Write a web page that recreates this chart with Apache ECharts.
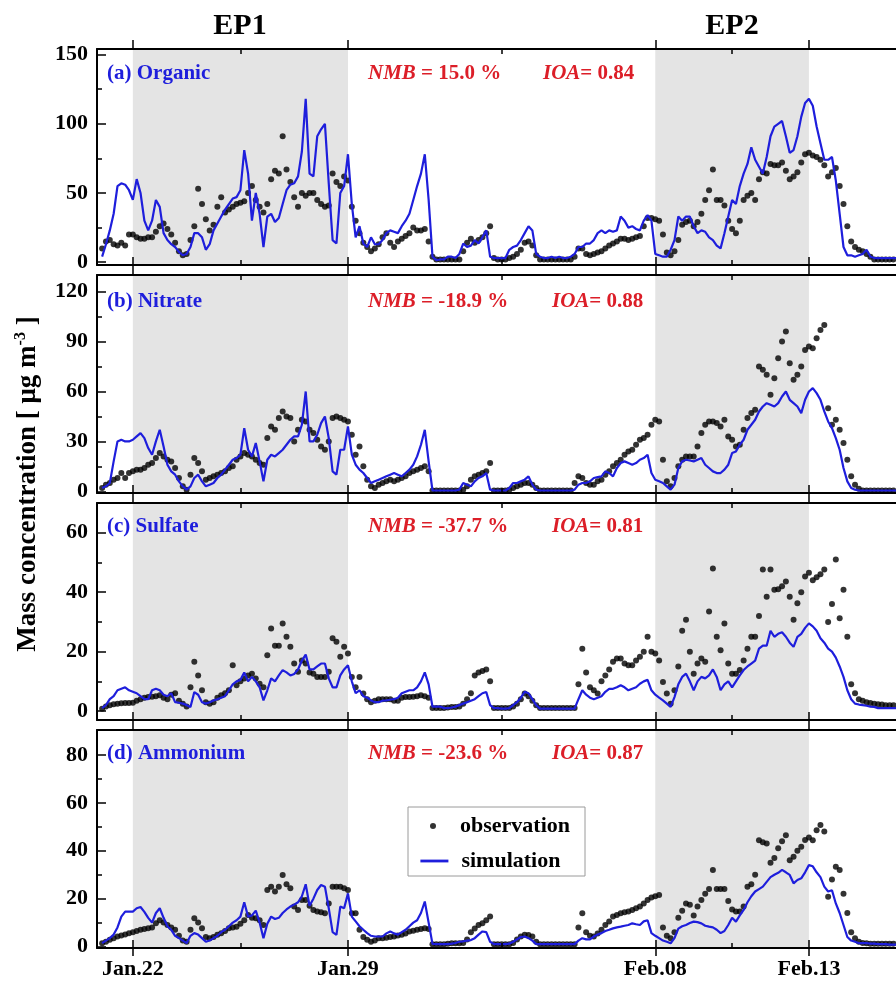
<!DOCTYPE html>
<html><head><meta charset="utf-8">
<script src="https://cdn.jsdelivr.net/npm/echarts@6/dist/echarts.min.js"></script>
<style>html,body{margin:0;padding:0;background:#fff}#c{width:896px;height:981px}</style>
</head><body><div id="c"></div>
<script>
// ---------------- DATA ----------------
// Samples every 3 hours, hours relative to Jan.22 00:00 (first sample: Jan.21 00:00)
const START_HOUR = -24;
const STEP_HOURS = 3;
const MAJOR_TICK_HOURS = [0, 168, 408, 528];
const MAJOR_TICK_LABELS = ['Jan.22', 'Jan.29', 'Feb.08', 'Feb.13'];
const MINOR_TICK_HOURS = [84, 288, 468];
const EPISODES = [[0, 168], [408, 528]];
const EPISODE_NAMES = ['EP1', 'EP2'];
const PANEL_LABELS = ['(a) Organic', '(b) Nitrate', '(c) Sulfate', '(d) Ammonium'];
const NMB_VALUES = ['15.0', '-18.9', '-37.7', '-23.6'];
const IOA_VALUES = ['0.84', '0.88', '0.81', '0.87'];
const Y_TICKS = [[0, 50, 100, 150], [0, 30, 60, 90, 120], [0, 20, 40, 60], [0, 20, 40, 60, 80]];
const Y_MINOR_TICKS = [[25, 75, 125], [15, 45, 75, 105], [10, 30, 50], [10, 30, 50, 70]];

const organicObs = [
10,15,16,13,12,14,12,20, 20,18,17,17,18,18,22,26, 28,24,20,14,8,5,6,16, 26,53,42,31,23,27,40,47,
36,38,40,42,43,44,50,55, 45,40,36,42,60,66,64,91, 67,58,47,40,50,48,50,50, 45,42,40,41,64,58,55,62,
59,40,30,21,14,11,8,10, 13,18,21,14,11,15,17,19, 21,25,23,23,24,15,4,2, 2,2,2,2,2,2,8,14,
17,14,16,18,21,26,3,2, 2,2,3,4,6,9,14,15, 12,5,2,2,2,2,2,2, 2,2,2,4,10,10,6,5,
6,7,8,10,12,13.5,15,17, 17,16,17,18,19,26,32,32, 31,30,20,7,5,8,16,27, 29,30,26,29,35,45,52,67,
45,45,41,30,24,21,30,45, 48,50,45,60,65,64,71,70, 70,72,66,60,62,65,72,78, 79,77,76,74,70,62,65,68,
55,42,26,15,11,9,8,6, 4,2,2,2,2,2,2,2];
const organicSim = [
4,13,23,35,55,57,56,52, 45,60,50,30,23,30,45,40, 21,16,13,11,7.5,5,6,11, 21,21,18,9,13,23,28,33,
38,42,46,47,52,81,64,30, 50,35,11,33,35,29,32,42, 52,56,57,62,80,118,64,62, 91,96,100,57,16,13.5,50,55,
78,42,18,26,13.5,11,18,13, 13,16,21,23,22,21,26,30, 35,45,55,64,78,45,4,1.5, 2,2,4,4,3,6,13.5,11,
12,16,13.5,18,23,4,3,3, 3,3,9,11,12,16,21,26, 23,6,4,3,3,4,3,4, 3,3,4,6,11,11,13.5,13.5,
16,21,23,21,23,22,23,33, 30,25,26,24,23,30,34,30, 6,5,4,4,9,16,33,30, 33,33,26,21,23,22,18,16,
12,10,21,33,45,42,55,64, 71,83,74,69,64,76,91,98, 100,102,91,79,81,91,105,115, 118,113,98,86,74,74,76,59,
35,11,5,5,4,5,6,9, 4,3,3,3,3,3,3,3];

const nitrateObs = [
2,4,5,7,8,11,8,11, 12,13,13,14,16,17,20,23, 21,19,18,14,8,3,1,10, 20,17,12,7,8,9,10,11,
12,14,15,19,21,23,22,21, 19,17,16,32,39,37,44,48, 45,44,30,37,43,42,37,35, 31,27,25,30,44,45,44,43,
42,34,22,27,15,7,3,2, 4,5,6,7,6,7,8,9, 11,12,13,14,15,12,0.5,0.5, 0.5,0.5,0.5,0.5,0.5,0.5,1,3,
7,9,10,11,12,17,0.5,0.5, 0.5,0.5,1,2,3,4,5,5, 4,2,0.5,0.5,0.5,0.5,0.5,0.5, 0.5,0.5,0.5,5,9,8,5,4,
4,6,7,10,12,15,17,19, 22,24,25,28,31,32,34,40, 43,42,19,6,3,8,15,19, 21,21,21,27,35,40,42,42,
41,39,43,33,31,27,28,37, 44,47,49,75,73,70,58,68, 80,90,96,77,67,70,75,85, 87,86,92,97,100,50,40,43,
37,29,19,9,4,1.5,0.5,0.5, 0.5,0.5,0.5,0.5,0.5,0.5,0.5,0.5];
const nitrateSim = [
2,3,5,18,30,31,30,30, 31,33,35,32,26,22,30,37, 27,16,12,10,6,3,1,3, 8,10,6,3,4,5,8,10,
13,16,19,20,22,38,25,21, 29,18,6,19,22,21,23,25, 28,31,33,33,40,60,30,30, 34,41,45,32,12,10,25,25,
39,22,16,13,11,8,5,6, 7,8,9,10,11,10,9,11, 13,16,21,28,37,18,0.5,0.5, 0.5,0.5,0.5,0.5,0.5,1,5,4,
3,6,8,9,11,1,0.5,0.5, 0.5,0.5,2,5,5,6,7,9, 4,1,0.5,0.5,0.5,0.5,0.5,0.5, 0.5,0.5,0.5,1,4,5,5,6,
8,8.5,9,12,11,9,14,17, 18,17,16,17,19,20,22,11, 7,6,5,3,1,4,14,18, 19,18.5,18,19,20,16,14,12,
11,11,13,16,23,24,28,31, 37,40,43,48,51,53,52,51, 53,57,60,55,53,51,47,55, 60,62,59,55,48,42,38,32,
25,14,6,2,1,0.5,0.5,0.5, 0.5,0.5,0.5,0.5,0.5,0.5,0.5,0.5];

const sulfateObs = [
0.8,1.5,2,2.3,2.5,2.6,2.7,2.7, 2.8,3.5,4,4.5,4.7,4.8,5,5.3, 4.5,4,5.5,6,3.5,2.5,1.5,8, 16.6,12,7,3,2.5,3,4.5,5.3,
6,7,15.4,8.7,10,11,12,12.6, 11,9.2,8,18.8,27.8,22,22,29.5, 25,21.6,16,13.2,17,16,13,12.6, 11.5,11.5,11.5,13.2,24.5,23.3,18.3,21.6,
19.4,11.5,8,11.5,5.9,4,3,3.5, 4,4,4,4,3.5,3.5,4.5,4.7, 4.7,4.8,5,5.3,5,4.5,1,1, 1,1,1.2,1.4,1.4,1.5,2.5,4,
6,12,13,13.5,14,10,1,1, 1,1,1,1.5,2.5,4,5.9,5, 3.5,2,1,1,1,1,1,1, 1,1,1,1,9,21,13,8,
7,5.9,10,12,14,16.6,17.7,17.7, 16,15.4,15.4,17,18.3,20,25,20, 19.4,17,9.8,5.9,2.5,7,15,27, 30.7,20,12.6,16,17.7,16.6,33.5,48,
25,20.5,29.5,16,12.6,12.6,13.8,17, 21,25,25,32,47.6,38.5,47.6,40.8, 41,42,43.6,38.5,30.7,36.3,40,45.3, 46.5,44,45,46,47.6,30,36,51,
31.2,40.8,25,9,6,4,3.5,3, 2.7,2.5,2.3,2.2,2,2,2,2.2];
const sulfateSim = [
1,2,4,5,7,7.5,8,7, 6.5,6,5,4,4,7,7.5,7, 5.5,5,6,3,2.8,2.5,2,1.4, 6.4,5.5,3,2.5,3,3.6,4,4.5,
5,7,9,10,10.5,13,10,11.5, 10,8,3.6,7,11,10,12,13.8, 13,12,12.5,14,17,19,14,14, 15,16,16,11,8,8,12,14,
15.4,10,6,7,5,4.5,3.6,3, 3,3.5,3.6,3.8,4,4.5,6,6.5, 7,7,8,10,13,9,1.5,1.5, 1.5,1,1,1.2,1.5,2,2.5,3,
3.5,4,5,6,6.4,2,1,1, 0.8,0.8,1,2,3,4.5,6.5,6, 4,2,0.8,0.8,0.8,0.8,0.8,0.8, 0.8,0.8,0.8,0.8,4,7,5.5,4.5,
4,4.5,5,6.5,7.5,7.5,8,8.7, 8,7,7.5,8,9.2,10,10.5,7, 5.5,4.5,3.6,2.5,1.4,4.7,9,11.5, 12.6,10,7,10,11.5,11,12,14,
11.5,7,9,10,8,10,12,13.8, 15,16,17,21,22,22,27,25, 26,26.5,25,23,21.6,25,26,28, 29.5,28.5,27,24.5,23,21,20,18,
15,11.5,7,4,2.5,2.2,2,1.8, 1.5,1.4,1,1,1,1,1,1];

const ammoniumObs = [
1.4,2,2.8,3.5,4.2,4.6,5,5.6, 6,6.5,7,7.3,7.6,8,9.7,11, 10,9,8,7,4.5,2.5,2,7, 11.8,10,7.6,4,3.5,4,4.9,5.6,
6.5,7.6,8,8.3,9.5,11,13.2,12, 11.8,11,9,23.6,25,23,25,29.9, 26,24.3,16.7,15.3,19.4,19.4,17,15.3, 14.6,14.3,13.9,18,25,25,25,24.3,
23.6,13.9,13.9,7,4,2.8,2,2.5, 3.5,3.5,3.7,4,4.2,4.6,4.9,5.5, 6.3,6.6,7,7.3,7.6,7.3,1,1, 1,1,1.2,1.4,1.4,1.4,1.5,3,
6,7.5,9,9.7,11,12.5,1,1, 1,1,1,1.5,3,4.2,4.9,4.8, 4.2,2,1,1,1,1,1,1, 1,1,1,1,8,13.9,6,4.5,
4.2,5.5,7,9,10.5,12.5,13.2,13.9, 14.3,14.6,15.3,16,16.7,18,19.4,20.5, 21,21.5,8,4.5,3.5,6,12,15, 18,17.5,13,16.7,19.4,22,24,32,
24,24,24,19,15.5,14.6,14.6,16.7, 25,26,30,44.4,43.5,43,35,37, 41,44,46.5,36,37.5,40,41.7,44.5, 45.5,44.4,48.6,50.7,48,20.8,28,33.3,
32,22,14,6,3.5,2,1.5,1.4, 1.2,1.2,1.2,1.2,1.2,1.2,1.2,1.2];
const ammoniumSim = [
1.4,2.5,3.5,5,8,12.5,14.6,14.6, 14.6,16,16.5,14.5,12,10,14,16, 12,8.5,7,4.5,3.5,2.5,1.4,4.5, 5.6,5,3.5,2,2.5,3.5,4.5,6,
7,8.5,10,11,12.5,18.5,12.5,13, 15,10,3.5,9.5,12.5,11.5,12,14, 15.5,16.7,17.5,18.5,21,26,17,20, 23.6,25.7,25,16,6,4.9,16.7,16,
22.2,12.5,10.5,8.5,7,5.6,4.5,4.2, 4.2,4.2,5.5,6.3,5.5,5,6,7, 8.5,10,11,14,18.8,10,1.1,1, 1,1,1,1.2,1.5,2,2.2,2.5,
2.7,3.5,5,6.3,6,2,1,1, 1,1,1.2,2,3,4,4.2,3.5, 2.5,1,1,1,1,1,1,1, 1,1,1,1,2.5,3.5,3,3,
4.2,5,5.6,6.5,7,7.6,8,8.3, 8.7,9,9.7,9.3,9,10.5,11,5.6, 4.5,3.5,2.5,2,1.4,3.5,7.5,8.5, 9,9.8,10.4,10.2,9.7,8.7,8.3,8,
7,5.6,6.5,9,12,10.4,13,15.3, 18.5,21,23,24,25,27,29,30, 30.8,32,31,29.9,26.4,27.8,28.5,31, 34,33.5,31,29,25,23,23.5,18,
14,9,4,2.5,2,1.4,1.4,1.4, 1.2,1.2,1,1,1,0.8,0.8,0.8];

const OBS = [organicObs, nitrateObs, sulfateObs, ammoniumObs];
const SIM = [organicSim, nitrateSim, sulfateSim, ammoniumSim];
[['organicObs',organicObs],['organicSim',organicSim],['nitrateObs',nitrateObs],['nitrateSim',nitrateSim],
 ['sulfateObs',sulfateObs],['sulfateSim',sulfateSim],['ammoniumObs',ammoniumObs],['ammoniumSim',ammoniumSim]]
 .forEach(([n,a]) => { if (a.length !== 208) throw new Error(n + ' length ' + a.length); });
const TIMES = organicObs.map((_, i) => START_HOUR + i * STEP_HOURS);

// ---------------- LAYOUT / STYLE ----------------
const FONT = "'Liberation Serif','Times New Roman',serif";
const BLUE = '#1e1edc';
const RED = '#dc1e28';
const X_MIN = -28, X_MAX = 596;
const Y_RANGE = [[-2, 154], [-1, 130], [-3, 70], [-0.6, 90.4]];
const LAYOUT = [
  {top: 49, height: 216, textY: 74, ioaX: 543},
  {top: 275, height: 218, textY: 302, ioaX: 552},
  {top: 503, height: 217, textY: 527, ioaX: 552},
  {top: 730, height: 218, textY: 754, ioaX: 552}
];
const AX = {color: '#000', width: 2};
const TK = {color: '#000', width: 1.5};

const grids = [], xAxes = [], yAxes = [], series = [], graphics = [];
for (let g = 0; g < 4; g++) {
  const L = LAYOUT[g];
  grids.push({left: 97, right: 0, top: L.top, height: L.height, containLabel: false});
  const xb = {gridIndex: g, type: 'value', min: X_MIN, max: X_MAX, splitLine: {show: false}, z: 10, axisLabel: {show: false}};
  const xi = xAxes.length;
  xAxes.push(Object.assign({}, xb, {position: 'bottom',
    axisLine: {show: true, onZero: false, lineStyle: AX},
    axisTick: {show: true, inside: true, length: 8, customValues: MAJOR_TICK_HOURS, lineStyle: TK},
    axisLabel: g === 3 ? {show: true, customValues: MAJOR_TICK_HOURS,
      formatter: v => MAJOR_TICK_LABELS[MAJOR_TICK_HOURS.indexOf(v)],
      fontFamily: FONT, fontWeight: 'bold', fontSize: 22, color: '#000', margin: 10} : {show: false}}));
  xAxes.push(Object.assign({}, xb, {position: 'bottom', axisLine: {show: false, onZero: false},
    axisTick: {show: true, inside: false, length: 8, customValues: MAJOR_TICK_HOURS, lineStyle: TK}}));
  xAxes.push(Object.assign({}, xb, {position: 'bottom', axisLine: {show: false, onZero: false},
    axisTick: {show: true, inside: true, length: 5, customValues: MINOR_TICK_HOURS, lineStyle: TK}}));
  xAxes.push(Object.assign({}, xb, {position: 'top', axisLine: {show: true, onZero: false, lineStyle: AX},
    axisTick: {show: true, inside: false, length: 9, customValues: MAJOR_TICK_HOURS, lineStyle: TK}}));
  xAxes.push(Object.assign({}, xb, {position: 'top', axisLine: {show: false, onZero: false},
    axisTick: {show: true, inside: true, length: 5, customValues: MINOR_TICK_HOURS, lineStyle: TK}}));

  const yi = yAxes.length;
  yAxes.push({gridIndex: g, type: 'value', min: Y_RANGE[g][0], max: Y_RANGE[g][1], position: 'left', z: 10,
    splitLine: {show: false},
    axisLine: {show: true, onZero: false, lineStyle: AX},
    axisTick: {show: true, inside: true, length: 9, customValues: Y_TICKS[g], lineStyle: TK},
    axisLabel: {show: true, customValues: Y_TICKS[g], fontFamily: FONT, fontWeight: 'bold', fontSize: 22, color: '#000', margin: 9}});
  yAxes.push({gridIndex: g, type: 'value', min: Y_RANGE[g][0], max: Y_RANGE[g][1], position: 'left', z: 10,
    splitLine: {show: false}, axisLine: {show: false, onZero: false},
    axisTick: {show: true, inside: true, length: 5, customValues: Y_MINOR_TICKS[g], lineStyle: TK},
    axisLabel: {show: false}});

  series.push({type: 'line', xAxisIndex: xi, yAxisIndex: yi, data: [], silent: true, z: 1,
    markArea: {silent: true, itemStyle: {color: '#e4e4e4'},
      data: EPISODES.map(e => [{xAxis: e[0]}, {xAxis: e[1]}])}});
  series.push({type: 'scatter', name: 'observation', xAxisIndex: xi, yAxisIndex: yi, z: 3,
    symbol: 'circle', symbolSize: 6, itemStyle: {color: '#000'},
    data: TIMES.map((t, i) => [t, OBS[g][i]])});
  series.push({type: 'line', name: 'simulation', xAxisIndex: xi, yAxisIndex: yi, z: 4,
    showSymbol: false, symbol: 'none', lineStyle: {color: BLUE, width: 2.2}, itemStyle: {color: BLUE},
    data: TIMES.map((t, i) => [t, SIM[g][i]])});

  graphics.push({type: 'text', x: 107, y: L.textY, z: 20,
    style: {text: PANEL_LABELS[g], fill: BLUE, font: 'bold 21px ' + FONT, textAlign: 'left', textVerticalAlign: 'middle'}});
  graphics.push({type: 'text', x: 368, y: L.textY, z: 20,
    style: {text: '{i|NMB}{n| = ' + NMB_VALUES[g] + ' %}', textAlign: 'left', textVerticalAlign: 'middle',
      rich: {i: {fill: RED, color: RED, font: 'italic bold 21px ' + FONT}, n: {fill: RED, color: RED, font: 'bold 21px ' + FONT}}}});
  graphics.push({type: 'text', x: L.ioaX, y: L.textY, z: 20,
    style: {text: '{i|IOA}{n|= ' + IOA_VALUES[g] + '}', textAlign: 'left', textVerticalAlign: 'middle',
      rich: {i: {fill: RED, color: RED, font: 'italic bold 21px ' + FONT}, n: {fill: RED, color: RED, font: 'bold 21px ' + FONT}}}});
}

graphics.push({type: 'text', x: 240, y: 26, z: 20,
  style: {text: EPISODE_NAMES[0], fill: '#000', font: 'bold 30px ' + FONT, textAlign: 'center', textVerticalAlign: 'middle'}});
graphics.push({type: 'text', x: 732, y: 26, z: 20,
  style: {text: EPISODE_NAMES[1], fill: '#000', font: 'bold 30px ' + FONT, textAlign: 'center', textVerticalAlign: 'middle'}});
graphics.push({type: 'text', x: 28, y: 484, rotation: Math.PI / 2, z: 20,
  style: {text: '{n|Mass concentration [ \u03bcg m}{s|-3}{n| ]}', textAlign: 'center', textVerticalAlign: 'middle',
    rich: {n: {fill: '#000', font: 'bold 27px ' + FONT, lineHeight: 30},
           s: {fill: '#000', font: 'bold 16px ' + FONT, verticalAlign: 'top', lineHeight: 30}}}});
graphics.push({type: 'rect', z: 5, shape: {x: 408, y: 807, width: 177, height: 69},
  style: {fill: '#fff', stroke: '#9a9a9a', lineWidth: 1}});

const legendText = {fontFamily: FONT, fontWeight: 'bold', fontSize: 22, color: '#000', lineHeight: 24};
const option = {
  animation: false,
  backgroundColor: '#fff',
  grid: grids, xAxis: xAxes, yAxis: yAxes, series: series, graphic: graphics,
  legend: [
    {data: ['observation'], left: 430, top: 814, padding: 0, itemWidth: 6, itemHeight: 6, icon: 'circle', z: 30,
      textStyle: Object.assign({}, legendText, {padding: [0, 0, 0, 19]}), selectedMode: false},
    {data: ['simulation'], left: 419, top: 849, padding: 0, itemWidth: 28, itemHeight: 14, z: 30,
      itemStyle: {opacity: 0}, lineStyle: {width: 2.8},
      textStyle: Object.assign({}, legendText, {padding: [0, 0, 0, 8]}), selectedMode: false}
  ]
};
const chart = echarts.init(document.getElementById('c'), null, {renderer: 'canvas'});
chart.setOption(option);
</script></body></html>
